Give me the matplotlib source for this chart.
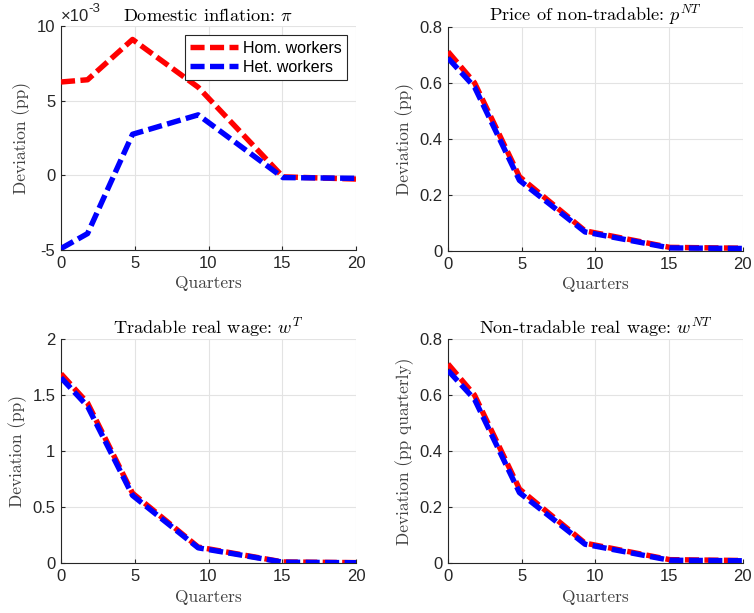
import matplotlib
matplotlib.use("Agg")
import matplotlib.pyplot as plt
from matplotlib.ticker import FuncFormatter

plt.rcParams['mathtext.fontset'] = 'cm'
plt.rcParams['font.family'] = ['Liberation Sans', 'DejaVu Sans']

# ---- data ----
quarters = [0, 1.8, 4.85, 9.3, 15.05, 20]
infl_hom = [6.25e-3, 6.4e-3, 9.1e-3, 5.9e-3, -0.1e-3, -0.25e-3]
infl_het = [-4.9e-3, -3.9e-3, 2.75e-3, 4.05e-3, -0.15e-3, -0.2e-3]
pnt_hom = [0.711, 0.60, 0.265, 0.072, 0.013, 0.010]
pnt_het = [0.688, 0.585, 0.252, 0.068, 0.011, 0.009]
wt_hom = [1.69, 1.43, 0.625, 0.145, 0.012, 0.006]
wt_het = [1.655, 1.40, 0.605, 0.138, 0.010, 0.005]
wnt_hom = [0.711, 0.60, 0.265, 0.072, 0.013, 0.010]
wnt_het = [0.688, 0.585, 0.252, 0.068, 0.011, 0.009]

titles = [r'Domestic inflation: $\pi$', r'Price of non-tradable: $p^{NT}$',
          r'Tradable real wage: $w^{T}$', r'Non-tradable real wage: $w^{NT}$']
ylabels = ['Deviation (pp)', 'Deviation (pp)', 'Deviation (pp)', 'Deviation (pp quarterly)']
series_labels = ['Hom. workers', 'Het. workers']
xticks = [0, 5, 10, 15, 20]
yticks_list = [[-5, 0, 5, 10], [0, 0.2, 0.4, 0.6, 0.8], [0, 0.5, 1, 1.5, 2], [0, 0.2, 0.4, 0.6, 0.8]]
ylims = [(-5, 10), (0, 0.8), (0, 2), (0, 0.8)]
scales = [1e-3, 1, 1, 1]

data = [(infl_hom, infl_het), (pnt_hom, pnt_het), (wt_hom, wt_het), (wnt_hom, wnt_het)]

fig = plt.figure(figsize=(7.54, 6.13), dpi=100)
W, H = 754, 613
boxes = [(61, 26, 356, 250), (448, 26.7, 742.7, 251),
         (61, 339, 356, 563.3), (448, 339, 742.7, 563.3)]

dark = '#262626'
serif = 'cmr10'

for i, (x0, y0, x1, y1) in enumerate(boxes):
    ax = fig.add_axes([x0 / W, (H - y1) / H, (x1 - x0) / W, (y1 - y0) / H])
    hom, het = data[i]
    s = scales[i]
    ax.plot(quarters, [v / s for v in hom], color='#ff0000', lw=3.9,
            dashes=(2.6, 1.0), dash_capstyle='butt', solid_capstyle='butt',
            label=series_labels[0], zorder=3)
    ax.plot(quarters, [v / s for v in het], color='#0000ff', lw=3.9,
            dashes=(2.6, 1.0), dash_capstyle='butt', solid_capstyle='butt',
            label=series_labels[1], zorder=4)
    ax.set_xlim(0, 20)
    ax.set_ylim(*ylims[i])
    ax.set_xticks(xticks)
    ax.set_yticks(yticks_list[i])
    ax.yaxis.set_major_formatter(FuncFormatter(lambda v, p: '%g' % v))
    ax.xaxis.set_major_formatter(FuncFormatter(lambda v, p: '%g' % v))
    ax.grid(True, color='#e3e3e3', lw=0.8)
    ax.set_axisbelow(True)
    for sp in ['top', 'right']:
        ax.spines[sp].set_visible(False)
    for sp in ['left', 'bottom']:
        ax.spines[sp].set_color(dark)
        ax.spines[sp].set_linewidth(0.8)
    ax.tick_params(direction='in', length=3, width=0.8, color=dark,
                   labelcolor=dark, labelsize=12, pad=4)
    ax.set_title(titles[i], fontsize=13.2, fontfamily=serif, color='black', pad=4)
    ax.set_xlabel('Quarters', fontsize=12.5, fontfamily=serif, color='#404040', labelpad=4)
    ax.set_ylabel(ylabels[i], fontsize=12.5, fontfamily=serif, color='#404040', labelpad=4)
    if i == 0:
        ax.text(0.0, 1.01, '×10', transform=ax.transAxes, fontsize=12,
                color=dark, ha='left', va='bottom')
        ax.text(0.093, 1.05, '-3', transform=ax.transAxes, fontsize=9.5,
                color=dark, ha='left', va='bottom')
        leg = ax.legend(loc='upper right', fontsize=11.5, frameon=True,
                        fancybox=False, handlelength=3.0, handletextpad=0.3,
                        borderpad=0.35, labelspacing=0.25, borderaxespad=0,
                        bbox_to_anchor=(0.97, 0.96))
        leg.get_frame().set_edgecolor(dark)
        leg.get_frame().set_linewidth(0.8)
        leg.get_frame().set_alpha(1)

fig.savefig('out.png', dpi=100)
